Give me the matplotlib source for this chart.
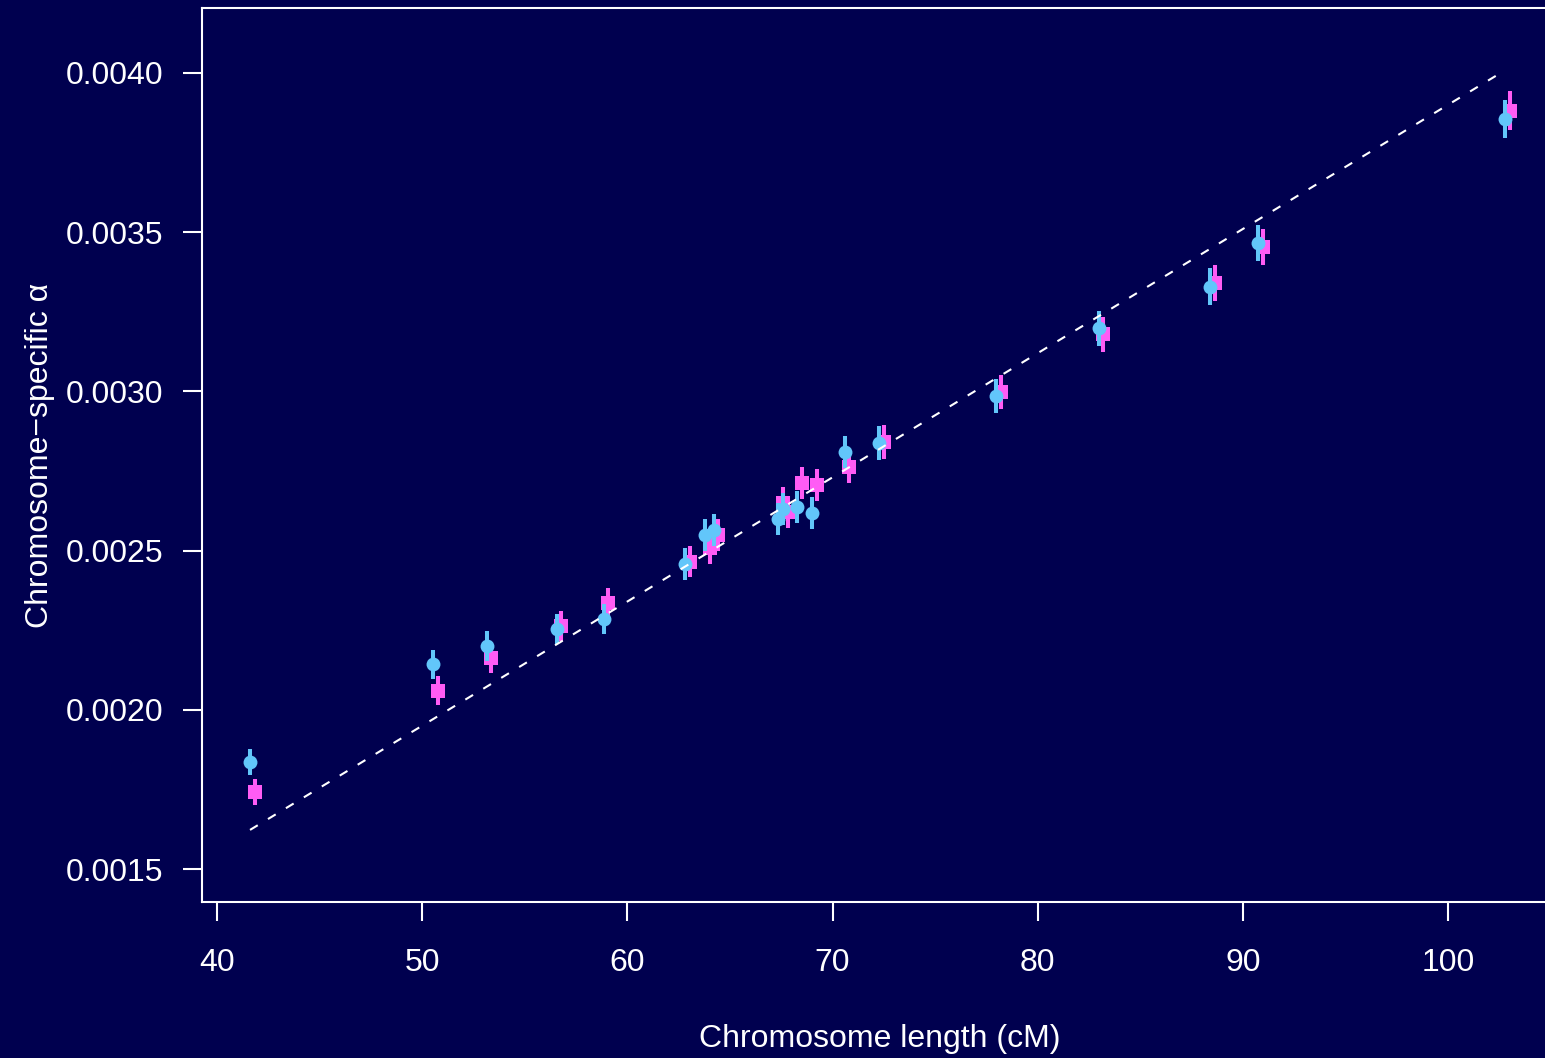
import numpy as np
import matplotlib.pyplot as plt

plt.rcParams['font.family'] = ['Liberation Sans', 'DejaVu Sans']
plt.rcParams['lines.scale_dashes'] = False

# chromosome lengths (cM) and estimated alpha for the two series
chrom_len = [41.61, 50.54, 53.14, 56.57, 58.86, 62.81, 63.80, 64.20, 67.36, 67.61,
             68.29, 69.02, 70.59, 72.27, 77.97, 82.97, 88.40, 90.75, 102.78]
alpha_blue = [0.001836, 0.002143, 0.002200, 0.002254, 0.002285, 0.002458, 0.002549,
              0.002565, 0.002598, 0.002630, 0.002638, 0.002617, 0.002809, 0.002839,
              0.002986, 0.003198, 0.003329, 0.003467, 0.003855]
alpha_pink = [0.001742, 0.002060, 0.002164, 0.002263, 0.002335, 0.002465, 0.002507,
              0.002549, 0.002649, 0.002620, 0.002711, 0.002706, 0.002762, 0.002842,
              0.002999, 0.003179, 0.003341, 0.003453, 0.003882]
err = [4.2e-5, 4.6e-5, 4.7e-5, 4.7e-5, 4.7e-5, 4.9e-5, 5.0e-5, 5.0e-5, 5.0e-5, 5.0e-5,
       5.0e-5, 5.0e-5, 5.0e-5, 5.3e-5, 5.3e-5, 5.6e-5, 5.7e-5, 5.7e-5, 6.0e-5]
slope = 3.9e-5  # alpha per cM, line through origin
x_ticks = [40, 50, 60, 70, 80, 90, 100]
y_ticks = [0.0015, 0.0020, 0.0025, 0.0030, 0.0035, 0.0040]

bg = '#00004f'
blue = '#62c6fa'
pink = '#ff5cf5'
fs = 23

x = np.array(chrom_len)
fig = plt.figure(figsize=(15.45, 10.58), dpi=100, facecolor=bg)
ax = fig.add_axes([202 / 1545, 156 / 1058, 1356 / 1545, 894 / 1058])
ax.set_facecolor(bg)

# pink series, offset a little to the right
ax.errorbar(x + 0.22, alpha_pink, yerr=err, fmt='s', color=pink, ms=9.5, mew=0,
            elinewidth=2.9, capsize=0, zorder=2)
ax.errorbar(x, alpha_blue, yerr=err, fmt='o', color=blue, ms=10, mew=0,
            elinewidth=2.9, capsize=0, zorder=3)

xl = np.array([x.min(), x.max()])
ax.plot(xl, slope * xl, color='white', lw=1.5, linestyle=(0, (6.5, 8.6)), zorder=4)

ax.set_xlim(39.269, 105.36)
ax.set_ylim(0.0013964, 0.004204)
ax.set_xticks(x_ticks)
ax.set_xticklabels([str(t) for t in x_ticks])
ax.set_yticks(y_ticks)
ax.set_yticklabels(['%.4f' % t for t in y_ticks])

for s in ax.spines.values():
    s.set_color('white')
    s.set_linewidth(1.5)
ax.tick_params(colors='white', length=14, width=1.5, labelsize=fs)
ax.tick_params(axis='x', pad=19)
ax.tick_params(axis='y', pad=14)

ax.set_xlabel('Chromosome length (cM)', color='white', fontsize=fs, labelpad=33)
ax.set_ylabel('Chromosome\u2212specific \u03b1', color='white', fontsize=fs)
ax.yaxis.set_label_coords(-0.1084, 0.5)

fig.savefig('out.png', dpi=100, facecolor=bg)
